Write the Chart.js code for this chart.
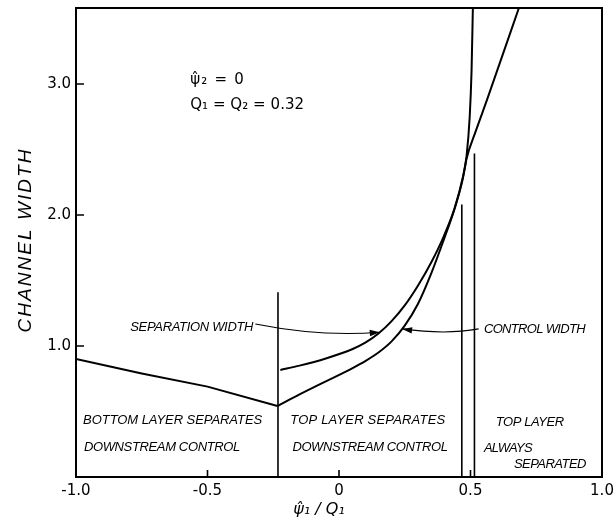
<!DOCTYPE html>
<html>
<head>
<meta charset="utf-8">
<script src="https://cdn.jsdelivr.net/npm/chart.js@4.4.1/dist/chart.umd.min.js"></script>
<style>
  html, body { margin: 0; padding: 0; background: #fff; }
</style>
</head>
<body>
<canvas id="chWidth" width="615" height="528"></canvas>
<script>
/* channel width vs psi1/Q1 */

// tick marks
var xTicks = [-0.5, 0, 0.5];
var yTicks = [1, 2, 3];

// bottom layer separates branch
var bottomX = [-1.0, -0.75, -0.5, -0.234];
var bottomY = [0.90, 0.79, 0.69, 0.542];

// separation width
var sepX = [-0.223, -0.15, -0.05, 0.05, 0.10, 0.15, 0.20, 0.25, 0.30, 0.35, 0.40, 0.44, 0.47, 0.485, 0.497, 0.504, 0.509];
var sepY = [0.817, 0.85, 0.905, 0.975, 1.025, 1.095, 1.19, 1.31, 1.46, 1.635, 1.845, 2.055, 2.28, 2.45, 2.75, 3.10, 3.58];

// control width
var ctrlX = [-0.234, -0.15, -0.05, 0.05, 0.10, 0.15, 0.20, 0.25, 0.30, 0.35, 0.40, 0.44, 0.47, 0.485, 0.52, 0.563, 0.684];
var ctrlY = [0.542, 0.63, 0.73, 0.83, 0.885, 0.95, 1.035, 1.155, 1.32, 1.55, 1.82, 2.05, 2.27, 2.43, 2.64, 2.88, 3.58];

// regime boundaries (vertical lines)
var boundX = [-0.232, 0.467, 0.515];
var boundTop = [1.41, 2.08, 2.47];

function pts(xs, ys) {
  return xs.map(function (x, i) { return { x: x, y: ys[i] }; });
}

var lineStyle = { showLine: true, borderColor: '#000', borderWidth: 2, pointRadius: 0, fill: false };

var datasets = [
  Object.assign({ data: pts(bottomX, bottomY), tension: 0 }, lineStyle),
  Object.assign({ data: pts(sepX, sepY), cubicInterpolationMode: 'monotone' }, lineStyle),
  Object.assign({ data: pts(ctrlX, ctrlY), cubicInterpolationMode: 'monotone' }, lineStyle)
];
boundX.forEach(function (x, i) {
  datasets.push(Object.assign({ data: [{ x: x, y: 0 }, { x: x, y: boundTop[i] }], tension: 0 }, lineStyle, { borderWidth: 1.6 }));
});

// text labels, left edge / middle, in data units
var labFont = "italic 13px 'Liberation Sans Narrow', 'Liberation Sans'";
var labels = [
  { t: '\u03C8\u0302\u2082 = 0', x: -0.566, y: 3.03, w: 56, f: "15px 'DejaVu Sans'" },
  { t: 'Q\u2081 = Q\u2082 = 0.32', x: -0.566, y: 2.84, w: 114, f: "15px 'DejaVu Sans'" },
  { t: 'SEPARATION WIDTH', x: -0.794, y: 1.145, w: 123 },
  { t: 'CONTROL WIDTH', x: 0.551, y: 1.13, w: 101 },
  { t: 'BOTTOM LAYER SEPARATES', x: -0.973, y: 0.435, w: 179 },
  { t: 'DOWNSTREAM CONTROL', x: -0.97, y: 0.229, w: 156 },
  { t: 'TOP LAYER SEPARATES', x: -0.185, y: 0.435, w: 155 },
  { t: 'DOWNSTREAM CONTROL', x: -0.177, y: 0.229, w: 155 },
  { t: 'TOP LAYER', x: 0.596, y: 0.42, w: 68 },
  { t: 'ALWAYS', x: 0.551, y: 0.222, w: 48 },
  { t: 'SEPARATED', x: 0.665, y: 0.099, w: 72 }
];

function fitText(ctx, text, x, y, width) {
  ctx.letterSpacing = '0px';
  var w = ctx.measureText(text).width;
  if (width) ctx.letterSpacing = ((width - w) / text.length) + 'px';
  ctx.fillText(text, x, y);
  ctx.letterSpacing = '0px';
}

function leader(ctx, a, c, b) {
  ctx.beginPath();
  ctx.moveTo(a[0], a[1]);
  ctx.quadraticCurveTo(c[0], c[1], b[0], b[1]);
  ctx.stroke();
  var ang = Math.atan2(b[1] - c[1], b[0] - c[0]);
  var L = 10, W = 3.2;
  ctx.beginPath();
  ctx.moveTo(b[0], b[1]);
  ctx.lineTo(b[0] - L * Math.cos(ang) + W * Math.sin(ang), b[1] - L * Math.sin(ang) - W * Math.cos(ang));
  ctx.lineTo(b[0] - L * Math.cos(ang) - W * Math.sin(ang), b[1] - L * Math.sin(ang) + W * Math.cos(ang));
  ctx.closePath();
  ctx.fill();
}

var decor = {
  id: 'decor',
  afterDatasetsDraw: function (chart) {
    var ctx = chart.ctx, a = chart.chartArea;
    var sx = chart.scales.x, sy = chart.scales.y;
    var P = function (x, y) { return [sx.getPixelForValue(x), sy.getPixelForValue(y)]; };
    ctx.save();
    ctx.strokeStyle = '#000';
    ctx.fillStyle = '#000';

    // frame
    ctx.lineWidth = 2;
    ctx.strokeRect(a.left, a.top, a.right - a.left, a.bottom - a.top);

    // inward ticks
    ctx.lineWidth = 1.6;
    ctx.beginPath();
    yTicks.forEach(function (v) {
      var y = sy.getPixelForValue(v);
      ctx.moveTo(a.left, y); ctx.lineTo(a.left + 8, y);
    });
    xTicks.forEach(function (v) {
      var x = sx.getPixelForValue(v);
      ctx.moveTo(x, a.bottom); ctx.lineTo(x, a.bottom - 7);
    });
    ctx.stroke();

    // leaders with arrows
    ctx.lineWidth = 1.2;
    leader(ctx, P(-0.318, 1.168), P(-0.07, 1.069), P(0.155, 1.105));
    leader(ctx, P(0.531, 1.13), P(0.406, 1.084), P(0.24, 1.13));

    // labels
    ctx.textBaseline = 'middle';
    ctx.textAlign = 'left';
    labels.forEach(function (l) {
      ctx.font = l.f || labFont;
      var p = P(l.x, l.y);
      fitText(ctx, l.t, p[0], p[1], l.w);
    });

    // axis titles
    ctx.textAlign = 'center';
    ctx.font = "italic 19px 'Liberation Sans Narrow', 'Liberation Sans'";
    ctx.save();
    ctx.translate(26, 240);
    ctx.rotate(-Math.PI / 2);
    fitText(ctx, 'CHANNEL WIDTH', 0, 0, 185);
    ctx.restore();
    ctx.font = "italic 16px 'DejaVu Sans'";
    ctx.fillText('\u03C8\u0302\u2081 / Q\u2081', 319, 510);
    ctx.restore();
  }
};

new Chart(document.getElementById('chWidth'), {
  type: 'scatter',
  data: { datasets: datasets },
  options: {
    responsive: false,
    animation: false,
    layout: { padding: { top: 8, right: 13, left: 0, bottom: 0 } },
    plugins: { legend: { display: false }, tooltip: { enabled: false } },
    scales: {
      x: {
        type: 'linear', min: -1, max: 1,
        grid: { display: false, drawTicks: false },
        border: { display: false },
        afterFit: function (s) { s.height = 51; s.paddingLeft = 0; s.paddingRight = 0; },
        ticks: {
          stepSize: 0.5, autoSkip: false, maxRotation: 0, padding: 5,
          color: '#000', font: { family: 'DejaVu Sans', size: 15 },
          callback: function (v) { return v === 0 ? '0' : v.toFixed(1); }
        }
      },
      y: {
        type: 'linear', min: 0, max: 3.58,
        grid: { display: false, drawTicks: false },
        border: { display: false },
        afterFit: function (s) { s.width = 76; s.paddingTop = 0; s.paddingBottom = 0; },
        ticks: {
          stepSize: 1, includeBounds: false, padding: 5,
          color: '#000', font: { family: 'DejaVu Sans', size: 15 },
          callback: function (v) { return v === 0 ? '' : v.toFixed(1); }
        }
      }
    }
  },
  plugins: [decor]
});
</script>
</body>
</html>
